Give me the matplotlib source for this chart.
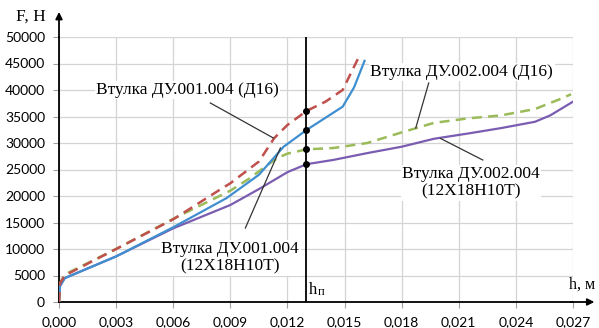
import matplotlib
matplotlib.use("Agg")
import matplotlib.pyplot as plt

# x ticks / y ticks
x_ticks = [0.000, 0.003, 0.006, 0.009, 0.012, 0.015, 0.018, 0.021, 0.024, 0.027]
x_labels = ["0,000", "0,003", "0,006", "0,009", "0,012", "0,015", "0,018", "0,021", "0,024", "0,027"]
y_ticks = [0, 5000, 10000, 15000, 20000, 25000, 30000, 35000, 40000, 45000, 50000]

# Втулка ДУ.001.004 (Д16) - red dashed
h_red = [0, 0.00005, 0.0003, 0.003, 0.006, 0.0085, 0.009, 0.0105, 0.0113, 0.012, 0.013, 0.014, 0.0149, 0.0158]
f_red = [0, 3500, 5000, 10000, 15600, 21300, 22400, 26500, 30900, 33400, 36040, 37800, 40000, 46600]

# Втулка ДУ.001.004 (12Х18Н10Т) - blue
h_blue = [0, 0.00005, 0.0003, 0.003, 0.006, 0.0088, 0.0105, 0.0118, 0.013, 0.0149, 0.0155, 0.01605]
f_blue = [0, 3000, 4500, 8600, 14100, 19600, 24000, 29300, 32450, 36850, 40500, 45500]

# Втулка ДУ.002.004 (Д16) - green dashed
h_green = [0, 0.00005, 0.0003, 0.003, 0.006, 0.009, 0.010, 0.011, 0.0115, 0.012, 0.013, 0.0144,
           0.0162, 0.018, 0.0197, 0.0215, 0.0232, 0.025, 0.0264, 0.0269]
f_green = [0, 3500, 5200, 10000, 15700, 21000, 23300, 26000, 27200, 28000, 28800, 29050,
           30000, 32000, 33800, 34650, 35200, 36400, 38400, 39200]

# Втулка ДУ.002.004 (12Х18Н10Т) - purple
h_purple = [0, 0.00005, 0.0003, 0.003, 0.006, 0.009, 0.0105, 0.012, 0.013, 0.0144, 0.0162,
            0.018, 0.0197, 0.0215, 0.0232, 0.025, 0.0258, 0.027]
f_purple = [0, 3000, 4500, 8600, 13900, 18300, 21300, 24500, 26000, 26800, 28100,
            29300, 30800, 31800, 32800, 34000, 35200, 37800]

h_p = 0.013
dots_f = [36040, 32450, 28800, 26000]

serif = "Liberation Serif"

fig = plt.figure(figsize=(5.99, 3.28), dpi=100)
ax = fig.add_axes([59 / 599, 1 - 302 / 328, 514 / 599, 265 / 328])

ax.set_xlim(0, 0.027)
ax.set_ylim(0, 50000)
ax.set_xticks(x_ticks)
ax.set_xticklabels(x_labels)
ax.set_yticks(y_ticks)
ax.grid(True, color="#d4d4d4", lw=0.9)
ax.set_axisbelow(True)
for s in ["top", "right"]:
    ax.spines[s].set_visible(False)
for s in ["left", "bottom"]:
    ax.spines[s].set_linewidth(1.3)
ax.tick_params(length=4.5, color="#a0a0a0", labelsize=10)
ax.tick_params(axis="x", pad=6)
ax.tick_params(axis="y", pad=5.5)
for lab in ax.get_xticklabels() + ax.get_yticklabels():
    lab.set_fontfamily("Lato")

ax.plot(h_purple, f_purple, color="#7a5cb0", lw=1.6, zorder=3)
ax.plot(h_green, f_green, color="#9bbb59", lw=1.8, ls=(0, (4, 2.5)), zorder=3)
ax.plot(h_blue, f_blue, color="#3f8fd0", lw=1.6, zorder=4)
ax.plot(h_red, f_red, color="#c0504d", lw=1.8, ls=(0, (4, 2.5)), zorder=5)

ax.plot([h_p, h_p], [0, 50000], color="black", lw=1.3, zorder=6)
ax.plot([h_p] * len(dots_f), dots_f, "o", color="black", ms=4, zorder=7)

# axis arrows
ax.annotate("", xy=(0, 1.105), xytext=(0, 0.99), xycoords="axes fraction",
            arrowprops=dict(arrowstyle="-|>", color="black", lw=1.3, mutation_scale=10))
ax.annotate("", xy=(1.047, 0), xytext=(0.99, 0), xycoords="axes fraction",
            arrowprops=dict(arrowstyle="-|>", color="black", lw=1.3, mutation_scale=10))

ax.text(-0.055, 1.075, "F, Н", transform=ax.transAxes, ha="center", va="center",
        fontsize=12.5, family=serif)
ax.text(1.044, 0.065, "h, м", transform=ax.transAxes, ha="right", va="center",
        fontsize=11.5, family=serif)
ax.text(0.01312, 700, "h", ha="left", va="bottom", fontsize=12, family=serif)
ax.text(0.01360, 700, "п", ha="left", va="bottom", fontsize=9, family=serif)

box = dict(facecolor="white", edgecolor="none", pad=1)
lead = dict(color="#333333", lw=0.9)
fs = 12.5

ax.plot([0.00795, 0.01126], [37550, 30940], zorder=8, **lead)
ax.text(0.00674, 40000, "Втулка ДУ.001.004 (Д16)", ha="center", va="center",
        fontsize=fs, family=serif, bbox=box, zorder=9)

ax.plot([0.01942, 0.01874], [41320, 32830], zorder=8, **lead)
ax.text(0.02116, 43400, "Втулка ДУ.002.004 (Д16)", ha="center", va="center",
        fontsize=fs, family=serif, bbox=box, zorder=9)

ax.plot([0.02226, 0.02005], [26790, 30840], zorder=8, **lead)
ax.text(0.02163, 22450, "Втулка ДУ.002.004\n(12Х18Н10Т)", ha="center", va="center",
        fontsize=fs, family=serif, bbox=box, zorder=9, linespacing=1.1)

ax.plot([0.00979, 0.01163], [13960, 29060], zorder=8, **lead)
ax.text(0.0090, 8300, "Втулка ДУ.001.004\n(12Х18Н10Т)", ha="center", va="center",
        fontsize=fs, family=serif, bbox=box, zorder=9, linespacing=1.1)

fig.savefig("out.png", dpi=100)
